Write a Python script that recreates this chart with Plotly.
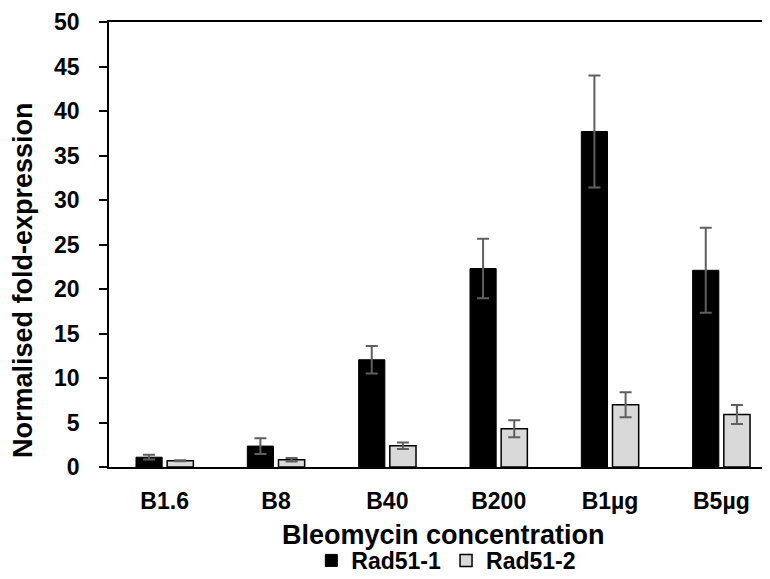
import plotly.graph_objects as go

# Bleomycin treatments
categories = ['B1.6', 'B8', 'B40', 'B200', 'B1µg', 'B5µg']

# normalised fold-expression (mean) and error (+/-)
rad51_1 = [1.1, 2.35, 12.05, 22.3, 37.7, 22.1]
rad51_1_err = [0.27, 0.88, 1.55, 3.35, 6.3, 4.77]
rad51_2 = [0.7, 0.82, 2.38, 4.3, 7.0, 5.9]
rad51_2_err = [0.06, 0.2, 0.37, 0.95, 1.4, 1.07]

family = 'Liberation Sans, Arial, sans-serif'
tick_font = dict(family=family, size=23, color='black', weight='bold')
title_font = dict(family=family, size=27, color='black', weight='bold')
err_style = dict(type='data', visible=True, color='#5f5f5f', thickness=2, width=6)

fig = go.Figure()

fig.add_trace(go.Bar(
    x=categories,
    y=rad51_1,
    name='Rad51-1',
    marker=dict(color='black', line=dict(color='black', width=1)),
    error_y=dict(array=rad51_1_err, **err_style),
))
fig.add_trace(go.Bar(
    x=categories,
    y=rad51_2,
    name='Rad51-2',
    marker=dict(color='#d9d9d9', line=dict(color='black', width=1.5)),
    error_y=dict(array=rad51_2_err, **err_style),
))

fig.update_layout(
    width=770,
    height=579,
    margin=dict(l=101, r=1, t=14, b=120, autoexpand=False),
    paper_bgcolor='white',
    plot_bgcolor='white',
    font=tick_font,
    barmode='group',
    bargap=0.44,
    bargroupgap=0.16,
    xaxis=dict(
        showline=True,
        linecolor='black',
        linewidth=1.5,
        mirror=True,
        ticks='outside',
        ticklen=13,
        tickcolor='rgba(0,0,0,0)',
        tickfont=tick_font,
    ),
    yaxis=dict(
        range=[0, 50],
        dtick=5,
        showline=True,
        linecolor='black',
        linewidth=1.5,
        mirror=True,
        showgrid=False,
        zeroline=False,
        ticks='outside',
        ticklen=8,
        tickwidth=1.5,
        tickcolor='black',
        ticklabelstandoff=15,
        ticklabeloverflow='allow',
        tickfont=tick_font,
    ),
    legend=dict(
        orientation='h',
        x=0.505,
        xanchor='center',
        y=-0.21,
        yanchor='middle',
        font=tick_font,
        itemwidth=30,
    ),
    annotations=[
        # axis titles
        dict(text='Bleomycin concentration', font=title_font, showarrow=False,
             xref='paper', yref='paper', x=0.5, y=0, yshift=-68,
             xanchor='center', yanchor='middle'),
        dict(text='Normalised fold-expression', font=title_font, showarrow=False,
             textangle=-90, xref='paper', yref='paper', x=0, xshift=-86, y=0.42,
             xanchor='center', yanchor='middle'),
    ],
)

fig.write_html("out.html")
